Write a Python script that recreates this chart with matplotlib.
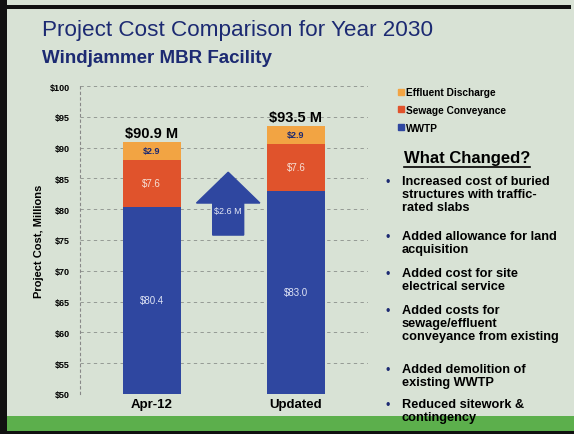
import matplotlib.pyplot as plt
import matplotlib.patches as mpatches
import numpy as np

categories = ["Apr-12", "Updated"]
wwtp = [80.4, 83.0]
sewage = [7.6, 7.6]
effluent = [2.9, 2.9]
wwtp_labels = ["$80.4", "$83.0"]
sewage_labels = ["$7.6", "$7.6"]
effluent_labels = ["$2.9", "$2.9"]
total_labels = ["$90.9 M", "$93.5 M"]
yticks = [50, 55, 60, 65, 70, 75, 80, 85, 90, 95, 100]
ytick_labels = ["$" + str(v) for v in yticks]
legend_labels = ["Effluent Discharge", "Sewage Conveyance", "WWTP"]
bullets = [
    "Increased cost of buried\nstructures with traffic-\nrated slabs",
    "Added allowance for land\nacquisition",
    "Added cost for site\nelectrical service",
    "Added costs for\nsewage/effluent\nconveyance from existing",
    "Added demolition of\nexisting WWTP",
    "Reduced sitework &\ncontingency",
]
arrow_label = "$2.6 M"

plt.rcParams['font.family'] = ['Liberation Sans', 'DejaVu Sans']

BG = "#d8e2d5"
BLUE = "#2f47a0"
RED = "#e0532c"
ORANGE = "#f2a443"
NAVY = "#1c2a72"

fig = plt.figure(figsize=(5.74, 4.35), dpi=100)
fig.patch.set_facecolor(BG)

# frame and green band
fig.add_artist(mpatches.Rectangle((0, 0.005), 1, 0.037, transform=fig.transFigure,
                                  facecolor="#5caf4c", edgecolor="none", zorder=0))
fig.add_artist(mpatches.Rectangle((0.0, 0.0), 0.012, 1, transform=fig.transFigure,
                                  facecolor="#111111", edgecolor="none"))
fig.add_artist(mpatches.Rectangle((0.0, 0.977), 0.995, 0.01, transform=fig.transFigure,
                                  facecolor="#111111", edgecolor="none"))
fig.add_artist(mpatches.Rectangle((0.0, 0.0), 1, 0.006, transform=fig.transFigure,
                                  facecolor="#111111", edgecolor="none"))

fig.text(0.073, 0.930, "Project Cost Comparison for Year 2030", color=NAVY,
         fontsize=16.2, va="center", ha="left")
fig.text(0.073, 0.866, "Windjammer MBR Facility", color=NAVY, fontsize=13.5,
         fontweight="bold", va="center", ha="left")

ax = fig.add_axes([0.139, 0.092, 0.502, 0.708])
ax.set_facecolor("none")
x = np.arange(len(categories))
w = 0.4
base = 50
ax.bar(x, np.array(wwtp) - base, w, bottom=base, color=BLUE, zorder=3)
ax.bar(x, sewage, w, bottom=wwtp, color=RED, zorder=3)
top2 = np.array(wwtp) + np.array(sewage)
ax.bar(x, effluent, w, bottom=top2, color=ORANGE, zorder=3)

for i in range(len(categories)):
    ax.text(x[i], (base + wwtp[i]) / 2, wwtp_labels[i], ha="center", va="center",
            color="#dfe4f5", fontsize=7, zorder=4)
    ax.text(x[i], wwtp[i] + sewage[i] / 2, sewage_labels[i], ha="center", va="center",
            color="#f6e0d6", fontsize=7, zorder=4)
    ax.text(x[i], top2[i] + effluent[i] / 2, effluent_labels[i], ha="center", va="center",
            color=NAVY, fontsize=6.5, fontweight="bold", zorder=4)
    ax.text(x[i], top2[i] + effluent[i] + 0.4, total_labels[i], ha="center", va="bottom",
            color="black", fontsize=10.5, fontweight="bold", zorder=4)

# arrow
ax.add_patch(mpatches.FancyArrow(0.53, 75.8, 0, 10.2, width=0.215, head_width=0.44,
                                 head_length=5.0, length_includes_head=True,
                                 color=BLUE, zorder=3))
ax.text(0.53, 79.8, arrow_label, ha="center", va="center", color="#e4e8f5",
        fontsize=6.5, zorder=4)

ax.set_xlim(-0.5, 1.5)
ax.set_ylim(50, 100)
ax.set_yticks(yticks)
ax.set_yticklabels(ytick_labels, fontsize=6.5, fontweight="bold")
ax.set_xticks(x)
ax.set_xticklabels(categories, fontsize=9.5, fontweight="bold")
ax.tick_params(axis="both", length=0, pad=7)
ax.tick_params(axis="x", pad=3)
for s in ax.spines.values():
    s.set_visible(False)
ax.spines["left"].set_visible(True)
ax.spines["left"].set_linestyle((0, (2, 3)))
ax.spines["left"].set_color("#888888")
ax.spines["left"].set_linewidth(0.8)
ax.yaxis.grid(True, linestyle=(0, (4, 4)), color="#8a8f8a", linewidth=0.6, zorder=0)
ax.set_axisbelow(True)
ax.set_ylabel("Project Cost, Millions", fontsize=8, fontweight="bold", labelpad=4)

# legend
handles = [mpatches.Patch(color=c) for c in [ORANGE, RED, BLUE]]
fig.legend(handles, legend_labels, loc="upper left",
           bbox_to_anchor=(0.678, 0.818), frameon=False,
           prop={"size": 7.3, "weight": "bold"}, handlelength=0.55,
           handleheight=0.55, handletextpad=0.2, labelspacing=0.75)

fig.text(0.814, 0.636, "What Changed?", fontsize=12, fontweight="bold",
         ha="center", va="center")
fig.add_artist(plt.Line2D([0.704, 0.924], [0.614, 0.614], color="black", lw=1.2,
                          transform=fig.transFigure))

ys = [0.595, 0.469, 0.384, 0.298, 0.163, 0.082]
for yy, t in zip(ys, bullets):
    fig.text(0.672, yy - 0.016, "\u2022", fontsize=9, color=NAVY, va="center", ha="left")
    fig.text(0.700, yy, t, fontsize=9.2, fontweight="bold", va="top", ha="left",
             linespacing=1.08)

fig.savefig("out.png", dpi=100, facecolor=fig.get_facecolor())
